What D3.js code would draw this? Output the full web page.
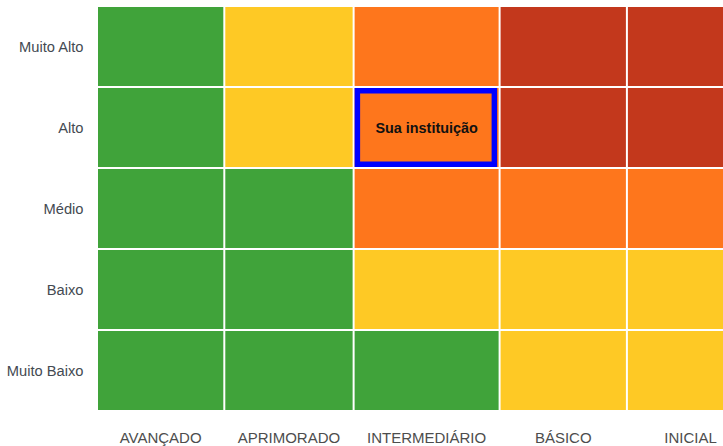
<!DOCTYPE html>
<html><head><meta charset="utf-8">
<script src="https://cdn.jsdelivr.net/npm/d3@7"></script>
<style>
html,body{margin:0;padding:0;background:#fff;overflow:hidden}
svg{display:block}
</style></head>
<body>
<script>
const columns = ["AVANÇADO", "APRIMORADO", "INTERMEDIÁRIO", "BÁSICO", "INICIAL"];
const rows = ["Muito Alto", "Alto", "Médio", "Baixo", "Muito Baixo"];
// level per cell: 0 = verde, 1 = amarelo, 2 = laranja, 3 = vermelho
const levels = [
  [0, 1, 2, 3, 3],
  [0, 1, 2, 3, 3],
  [0, 0, 2, 2, 2],
  [0, 0, 1, 1, 1],
  [0, 0, 0, 1, 1]
];
const levelColors = ["#40a33a", "#fec925", "#fe761c", "#c3381c"];
const highlight = { row: "Alto", col: "INTERMEDIÁRIO", label: "Sua instituição" };

const W = 723, H = 446;
const margin = { left: 98, top: 7, bottom: 36 };
const gap = 2, minColW = 125.3, labelPad = 24.8;
const font = "Liberation Sans, Arial, sans-serif";
const xFont = "15px";

const svg = d3.select("body").append("svg").attr("width", W).attr("height", H);

// measure column labels to size columns (content-driven widths)
const meas = svg.append("g").attr("font-family", font).attr("font-size", xFont);
const widths = columns.map(c => {
  const t = meas.append("text").text(c);
  const w = t.node().getComputedTextLength();
  t.remove();
  return Math.max(minColW, w + labelPad);
});
meas.remove();
const lefts = [];
widths.reduce((acc, w, i) => { lefts[i] = acc; return acc + w + gap; }, margin.left);
const xLeft = d3.scaleOrdinal().domain(columns).range(lefts);
const xWidth = d3.scaleOrdinal().domain(columns).range(widths);

const y = d3.scaleBand().domain(rows).range([margin.top, H - margin.bottom])
  .paddingInner(gap / 81).paddingOuter(0);
const color = d3.scaleOrdinal().domain([0, 1, 2, 3]).range(levelColors);

const cells = [];
rows.forEach((r, i) => columns.forEach((c, j) => cells.push({ r, c, v: levels[i][j] })));

svg.append("g").selectAll("rect").data(cells).join("rect")
  .attr("x", d => xLeft(d.c))
  .attr("y", d => y(d.r))
  .attr("width", d => xWidth(d.c))
  .attr("height", y.bandwidth())
  .attr("fill", d => color(d.v));

// highlight
const hb = 5.5;
svg.append("rect")
  .attr("x", xLeft(highlight.col) + hb / 2)
  .attr("y", y(highlight.row) + hb / 2)
  .attr("width", xWidth(highlight.col) - hb - 1.5)
  .attr("height", y.bandwidth() - hb)
  .attr("fill", "none")
  .attr("stroke", "#0000ff")
  .attr("stroke-width", hb);
svg.append("text")
  .attr("x", xLeft(highlight.col) + xWidth(highlight.col) / 2)
  .attr("y", y(highlight.row) + y.bandwidth() / 2)
  .attr("dy", "0.35em")
  .attr("text-anchor", "middle")
  .attr("font-family", font)
  .attr("font-weight", "bold")
  .attr("font-size", "14.4px")
  .attr("fill", "#111")
  .text(highlight.label);

// y labels
svg.append("g").selectAll("text").data(rows).join("text")
  .attr("x", margin.left - 14.5)
  .attr("y", d => y(d) + y.bandwidth() / 2)
  .attr("dy", "0.35em")
  .attr("text-anchor", "end")
  .attr("font-family", font)
  .attr("font-size", "14.7px")
  .attr("fill", "#444a52")
  .text(d => d);

// x labels
svg.append("g").selectAll("text").data(columns).join("text")
  .attr("x", d => xLeft(d) + xWidth(d) / 2)
  .attr("y", 443)
  .attr("text-anchor", "middle")
  .attr("font-family", font)
  .attr("font-size", xFont)
  .attr("fill", "#4d4d4d")
  .text(d => d);
</script>
</body></html>
